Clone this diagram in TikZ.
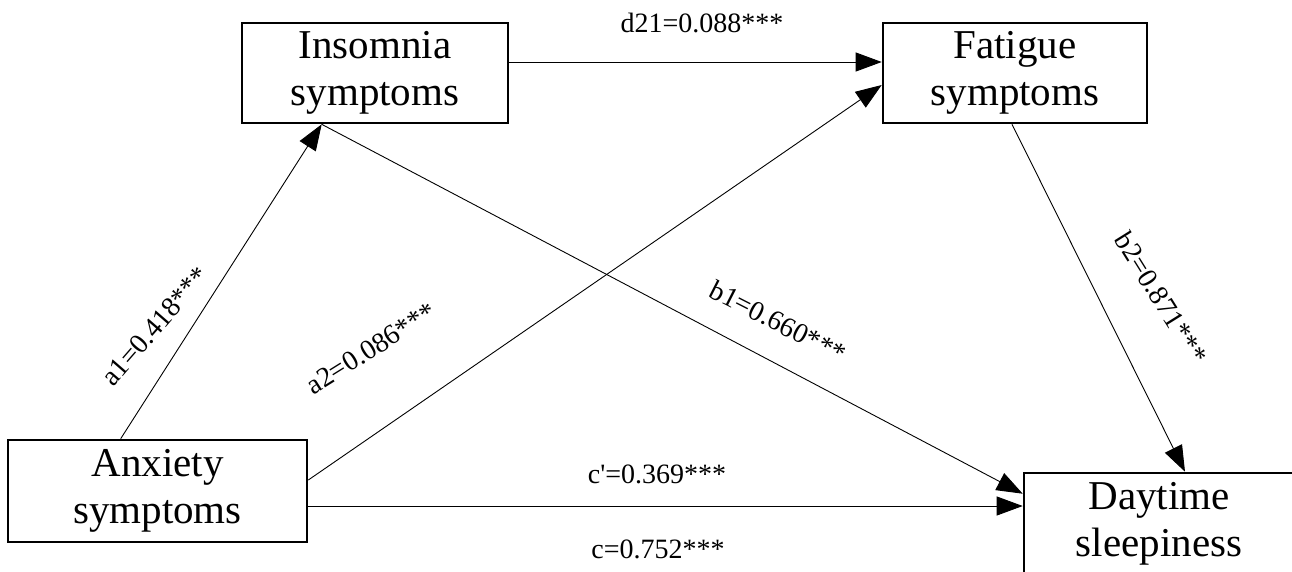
\documentclass[tikz,border=0pt]{standalone}
\usepackage{fontspec}
\setmainfont{Liberation Serif}
% same face without TeX ligature mapping, so ' stays a straight apostrophe
\newfontfamily\plainserif{Liberation Serif}[Ligatures=ResetAll]
\usetikzlibrary{arrows.meta}

\tikzset{
  varbox/.style={draw, line width=2.6pt, rectangle, inner sep=0pt, align=center,
    font=\fontsize{41}{47}\selectfont},
  path/.style={line width=0.9pt, -{Triangle[length=26pt,width=19pt]}},
  coef/.style={font=\fontsize{28}{30}\selectfont, inner sep=0pt, anchor=base}
}

\begin{document}
\begin{tikzpicture}[x=1pt, y=-1pt]
  \useasboundingbox (0,0) rectangle (1292,571);

  % variables
  \node[varbox, minimum width=299pt, minimum height=102pt] (anx) at (157.5,491) {Anxiety\\symptoms};
  \node[varbox, minimum width=266pt, minimum height=100pt] (ins) at (375,73) {Insomnia\\symptoms};
  \node[varbox, minimum width=264pt, minimum height=100pt] (fat) at (1015,73) {Fatigue\\symptoms};
  \node[varbox, minimum width=270pt, minimum height=101pt] (day) at (1159,523.5) {Daytime\\sleepiness};

  % paths
  \draw[path] ([xshift=114pt]anx.north west) -- ([xshift=81pt]ins.south west);
  \draw[path] ([xshift=81pt]ins.south west) -- ([yshift=-22pt]day.north west);
  \draw[path] ([yshift=11pt]anx.east) -- ([yshift=-12pt]fat.west);
  \draw[path] ([yshift=11pt]ins.east) -- ([yshift=11pt]ins.east -| fat.west);
  \draw[path] ([xshift=-3pt]fat.south) -- ([xshift=26pt]day.north);
  \draw[path] ([yshift=-15pt]anx.east) -- ([yshift=-15pt]anx.east -| day.west);

  % coefficients
  \node[coef, rotate=49] (la1) at (162,332) {a1=0.418***};
  \node[coef, rotate=32] (la2) at (376,356) {a2=0.086***};
  \node[coef, rotate=-27] (lb1) at (774,330) {b1=0.660***};
  \node[coef, rotate=-58] (lb2) at (1153,303) {b2=0.871***};
  \node[coef] (ld21) at (702,32) {d21=0.088***};
  \node[coef] (lcp) at (657,483) {\plainserif c'=0.369***};
  \node[coef] (lc) at (658,558) {c=0.752***};
\end{tikzpicture}
\end{document}
